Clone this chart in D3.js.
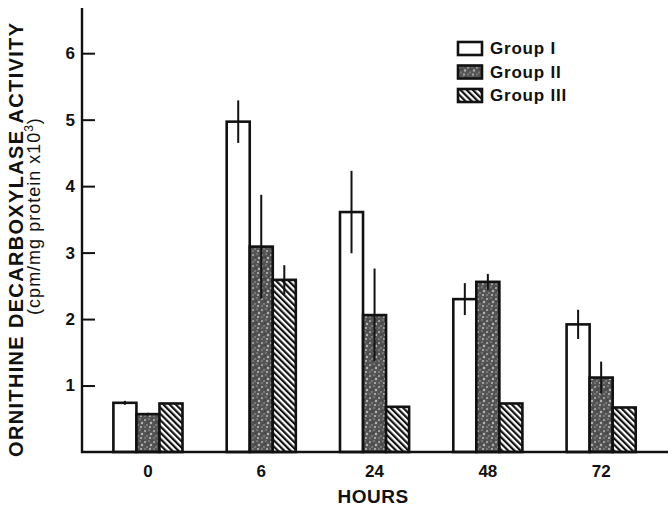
<!DOCTYPE html>
<html>
<head>
<meta charset="utf-8">
<script src="https://cdn.jsdelivr.net/npm/d3@7"></script>
<style>
  body { margin: 0; background: #fff; }
  text { font-family: "Liberation Sans", Arial, Helvetica, sans-serif; fill: #111; }
</style>
</head>
<body>
<div id="chart"></div>
<script>
// hours after treatment
var hours = ['0', '6', '24', '48', '72']
var groups = ['Group I', 'Group II', 'Group III']

// mean activity (cpm/mg protein x10^3) per group
var groupI = [0.74, 4.97, 3.61, 2.30, 1.92]
var groupII = [0.57, 3.09, 2.06, 2.56, 1.12]
var groupIII = [0.73, 2.59, 0.68, 0.73, 0.67]

// error bar half-lengths
var errI = [0.03, 0.32, 0.62, 0.24, 0.22]
var errII = [0.02, 0.78, 0.70, 0.12, 0.24]
var errIII = [0, 0.22, 0, 0, 0]

var yTicks = [1, 2, 3, 4, 5, 6]

var means = [groupI, groupII, groupIII]
var errs = [errI, errII, errIII]

var data = []
hours.forEach(function (h, i) {
  groups.forEach(function (g, j) {
    data.push({ hour: h, group: g, value: means[j][i], err: errs[j][i] })
  })
})

var width = 672, height = 509

var svg = d3.select('#chart').append('svg')
  .attr('width', width)
  .attr('height', height)

var defs = svg.append('defs')

// diagonal hatch for group III
var hatch = defs.append('pattern')
  .attr('id', 'hatch')
  .attr('patternUnits', 'userSpaceOnUse')
  .attr('width', 4.4)
  .attr('height', 4.4)
  .attr('patternTransform', 'rotate(-45)')
hatch.append('rect').attr('width', 4.4).attr('height', 4.4).attr('fill', '#fff')
hatch.append('line')
  .attr('x1', 1.1).attr('y1', 0).attr('x2', 1.1).attr('y2', 4.4)
  .attr('stroke', '#111').attr('stroke-width', 2.2)

// stippled grey for group II
var stipple = defs.append('pattern')
  .attr('id', 'stipple')
  .attr('patternUnits', 'userSpaceOnUse')
  .attr('width', 9)
  .attr('height', 11)
stipple.append('rect').attr('width', 9).attr('height', 11).attr('fill', '#545454')
var specks = [[1, 2, 1.1, '#aaa'], [5, 1, 0.8, '#999'], [7, 5, 1.2, '#b4b4b4'], [3, 7, 0.9, '#8a8a8a'],
  [1, 9, 0.8, '#a0a0a0'], [6, 9, 1, '#c0c0c0'], [4, 4, 0.7, '#333'], [8, 1, 0.6, '#2a2a2a'], [2, 5, 0.6, '#3a3a3a']]
stipple.selectAll('circle')
  .data(specks)
  .enter().append('circle')
  .attr('cx', function (d) { return d[0] })
  .attr('cy', function (d) { return d[1] })
  .attr('r', function (d) { return d[2] })
  .attr('fill', function (d) { return d[3] })

var fills = { 'Group I': '#fff', 'Group II': 'url(#stipple)', 'Group III': 'url(#hatch)' }

var axisX = 82, baseY = 452

var y = d3.scaleLinear()
  .domain([0, 6.68])
  .range([baseY, 8])

var x0 = d3.scaleBand()
  .domain(hours)
  .range([91.3, 657.8])
  .paddingInner(0.39)
  .paddingOuter(0.195)

var x1 = d3.scaleBand()
  .domain(groups)
  .range([0, x0.bandwidth()])

// bars
svg.selectAll('.bar')
  .data(data)
  .enter().append('rect')
  .attr('class', 'bar')
  .attr('x', function (d) { return x0(d.hour) + x1(d.group) })
  .attr('width', x1.bandwidth())
  .attr('y', function (d) { return y(d.value) })
  .attr('height', function (d) { return baseY - y(d.value) })
  .attr('fill', function (d) { return fills[d.group] })
  .attr('stroke', '#111')
  .attr('stroke-width', 2.6)

// error bars
svg.selectAll('.err')
  .data(data.filter(function (d) { return d.err > 0 }))
  .enter().append('line')
  .attr('class', 'err')
  .attr('x1', function (d) { return x0(d.hour) + x1(d.group) + x1.bandwidth() / 2 })
  .attr('x2', function (d) { return x0(d.hour) + x1(d.group) + x1.bandwidth() / 2 })
  .attr('y1', function (d) { return y(d.value + d.err) })
  .attr('y2', function (d) { return y(d.value - d.err) })
  .attr('stroke', '#111')
  .attr('stroke-width', 2)

// y axis, ticks pointing inward
var yAxis = d3.axisRight(y)
  .tickValues(yTicks)
  .tickSize(13)
  .tickFormat(d3.format('d'))

var yg = svg.append('g')
  .attr('transform', 'translate(' + axisX + ',0)')
  .call(yAxis)
yg.select('.domain').remove()
yg.selectAll('.tick line').attr('stroke', '#111').attr('stroke-width', 2)
yg.selectAll('.tick text')
  .attr('x', -7)
  .attr('text-anchor', 'end')
  .style('font-size', '17px')
  .style('font-weight', 'bold')

svg.append('line')
  .attr('x1', axisX).attr('x2', axisX)
  .attr('y1', y.range()[1]).attr('y2', baseY + 1)
  .attr('stroke', '#111').attr('stroke-width', 2.4)

// x axis
var xAxis = d3.axisBottom(x0).tickSize(0).tickPadding(13)
var xg = svg.append('g')
  .attr('transform', 'translate(0,' + baseY + ')')
  .call(xAxis)
xg.select('.domain').remove()
xg.selectAll('.tick text')
  .style('font-size', '17px')
  .style('font-weight', 'bold')

svg.append('line')
  .attr('x1', axisX - 1).attr('x2', 668)
  .attr('y1', baseY).attr('y2', baseY)
  .attr('stroke', '#111').attr('stroke-width', 2.4)

svg.append('text')
  .attr('x', 373)
  .attr('y', 503)
  .attr('text-anchor', 'middle')
  .style('font-size', '19px')
  .style('font-weight', 'bold')
  .style('letter-spacing', '0.5px')
  .text('HOURS')

// y axis title
svg.append('text')
  .attr('transform', 'translate(23,240) rotate(-90)')
  .attr('text-anchor', 'middle')
  .attr('textLength', 434)
  .attr('lengthAdjust', 'spacing')
  .style('font-size', '20px')
  .style('font-weight', 'bold')
  .text('ORNITHINE DECARBOXYLASE ACTIVITY')

var sub = svg.append('text')
  .attr('transform', 'translate(40,216) rotate(-90)')
  .attr('text-anchor', 'middle')
  .style('font-size', '18px')
  .style('letter-spacing', '1px')
sub.append('tspan').text('(cpm/mg protein x10')
sub.append('tspan').attr('dy', -7).style('font-size', '12px').text('3')
sub.append('tspan').attr('dy', 7).text(')')

// legend
var legend = svg.selectAll('.legend')
  .data(groups)
  .enter().append('g')
  .attr('class', 'legend')
  .attr('transform', function (d, i) { return 'translate(458,' + (42 + i * 23.5) + ')' })

legend.append('rect')
  .attr('width', 24)
  .attr('height', 13)
  .attr('fill', function (d) { return fills[d] })
  .attr('stroke', '#111')
  .attr('stroke-width', 2.6)

legend.append('text')
  .attr('x', 32)
  .attr('y', 12)
  .style('font-size', '17px')
  .style('font-weight', 'bold')
  .style('letter-spacing', '0.8px')
  .text(function (d) { return d })
</script>
</body>
</html>
